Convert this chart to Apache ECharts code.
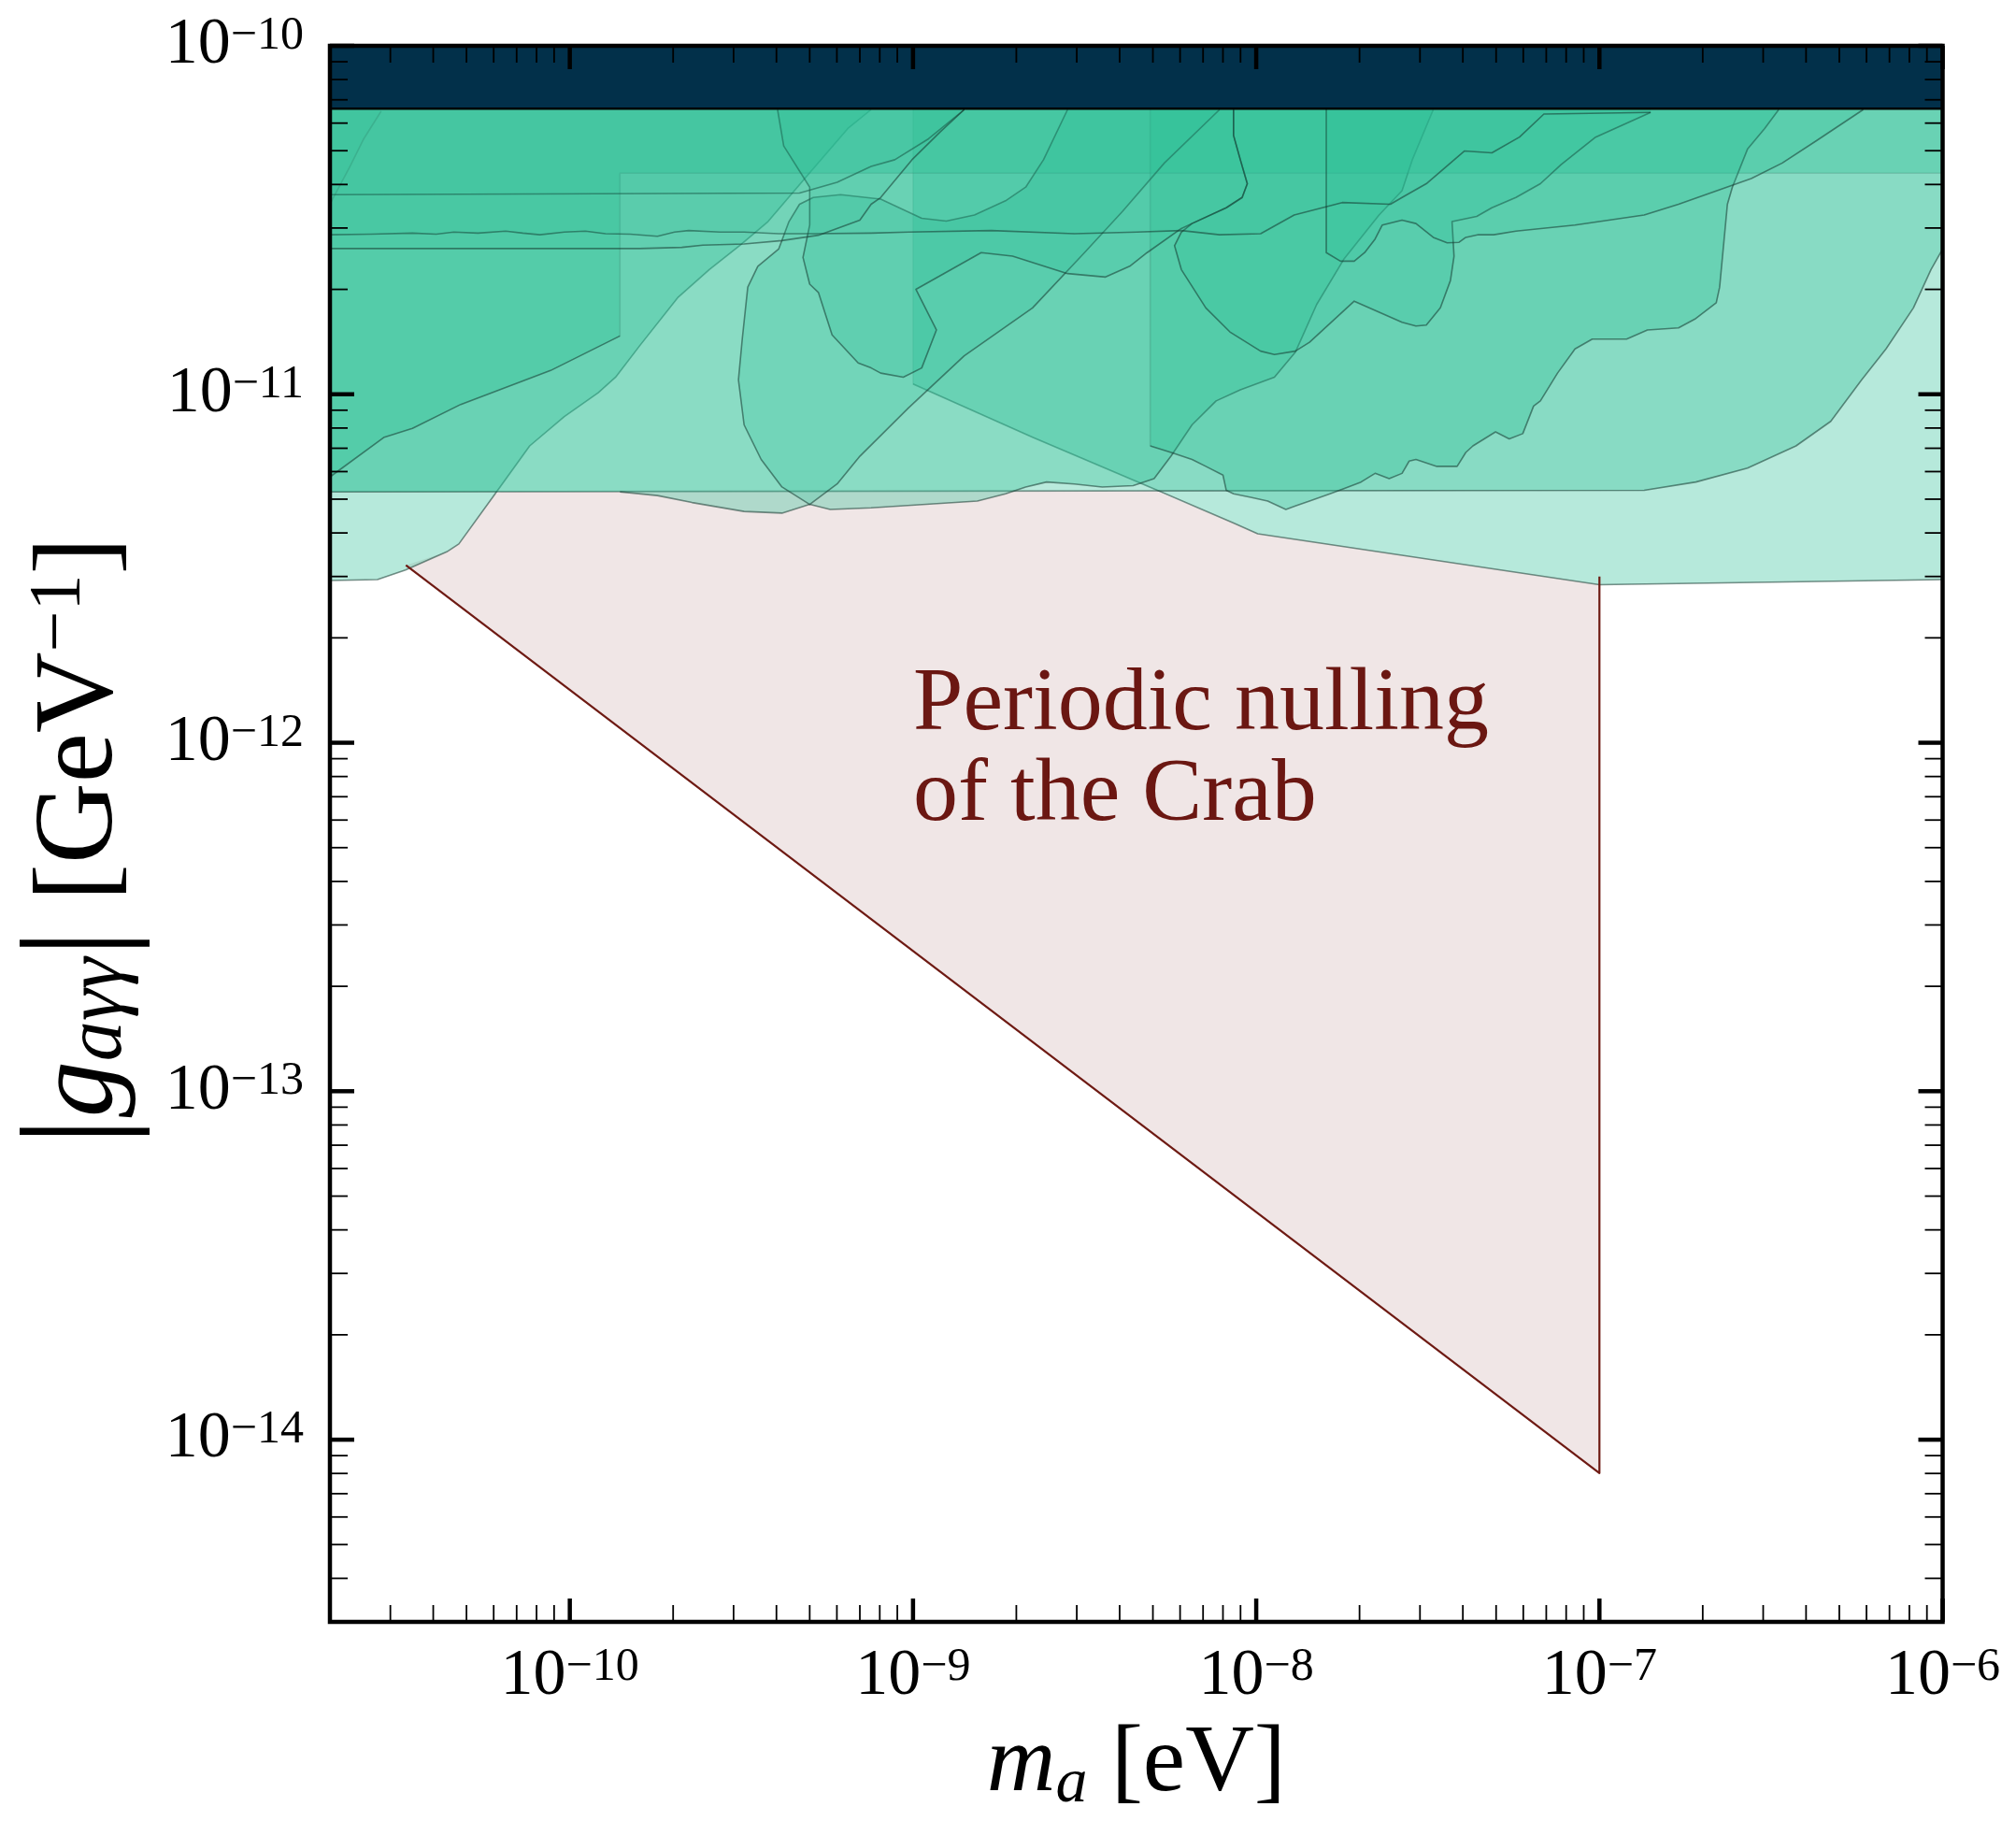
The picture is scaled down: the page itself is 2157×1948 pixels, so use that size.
<!DOCTYPE html>
<html>
<head>
<meta charset="utf-8">
<script src="https://cdn.jsdelivr.net/npm/echarts@6/dist/echarts.min.js"></script>
<style>
  html, body { margin: 0; padding: 0; background: #ffffff; }
  #chart { width: 2157px; height: 1948px; }
</style>
</head>
<body>
<div id="chart"></div>
<script>
// Axis ranges: axion mass m_a [eV] and photon coupling |g_aγγ| [GeV^-1]
const X_MIN = 2e-11, X_MAX = 1e-6;
const Y_MIN = 3e-15, Y_MAX = 1e-10;

// Decade ticks and their exponent labels
const X_TICKS = [1e-10, 1e-9, 1e-8, 1e-7, 1e-6];
const X_TICK_EXP = ['−10', '−9', '−8', '−7', '−6'];
const Y_TICKS = [1e-14, 1e-13, 1e-12, 1e-11, 1e-10];
const Y_TICK_EXP = ['−14', '−13', '−12', '−11', '−10'];

// Helioscope bound along the top of the frame
const CAST_G = 6.6e-11;

// Excluded regions, as [m_a, g] vertices
const REGION_LEFT = [[2e-11,1e-10],[2e-11,2.92e-12],[2.75e-11,2.94e-12],[3.32e-11,3.13e-12],[4.38e-11,3.53e-12],[4.75e-11,3.72e-12],[6.06e-11,5.18e-12],[7.64e-11,7.11e-12],[9.64e-11,8.63e-12],[1.21e-10,1.01e-11],[1.36e-10,1.12e-11],[1.60e-10,1.38e-11],[2.07e-10,1.90e-11],[2.55e-10,2.28e-11],[3.14e-10,2.68e-11],[3.78e-10,3.13e-11],[4.89e-10,4.21e-11],[6.46e-10,5.79e-11],[7.55e-10,6.56e-11],[8.5e-10,1e-10]];

const REGION_FLAT = [[2e-11,1e-10],[2e-11,5.25e-12],[1.35e-7,5.30e-12],[1.91e-7,5.60e-12],[2.70e-7,6.14e-12],[3.74e-7,7.11e-12],[4.72e-7,8.36e-12],[5.81e-7,1.10e-11],[6.84e-7,1.35e-11],[8.22e-7,1.77e-11],[9.25e-7,2.28e-11],[1e-6,2.61e-11],[1e-6,1e-10]];

const REGION_RIGHT = [[1e-9,1e-10],[1e-9,1.07e-11],[2.23e-9,7.53e-12],[5.15e-9,5.30e-12],[8.59e-9,4.27e-12],[1.01e-8,3.98e-12],[2.66e-8,3.45e-12],[1e-7,2.84e-12],[1e-6,2.94e-12],[1e-6,1e-10]];

const REGION_WAVY = [[2e-11,1e-10],[2e-11,5.25e-12],[1.40e-10,5.25e-12],[1.80e-10,5.12e-12],[2.27e-10,4.89e-12],[3.22e-10,4.61e-12],[4.15e-10,4.56e-12],[5.0e-10,4.83e-12],[5.74e-10,4.67e-12],[7.55e-10,4.72e-12],[1.54e-9,4.94e-12],[1.86e-9,5.18e-12],[2.13e-9,5.42e-12],[2.45e-9,5.60e-12],[2.95e-9,5.53e-12],[3.56e-9,5.42e-12],[4.38e-9,5.47e-12],[5.04e-9,5.73e-12],[5.65e-9,6.65e-12],[6.50e-9,8.17e-12],[7.64e-9,9.57e-12],[8.99e-9,1.03e-11],[1.13e-8,1.12e-11],[1.30e-8,1.32e-11],[1.50e-8,1.81e-11],[1.80e-8,2.44e-11],[2.28e-8,3.27e-11],[2.66e-8,3.84e-11],[2.85e-8,4.71e-11],[3.28e-8,6.56e-11],[3.4e-8,1e-10]];

const REGION_OVAL = [[2.82e-9,6.56e-11],[2.40e-9,4.71e-11],[2.13e-9,3.93e-11],[1.86e-9,3.59e-11],[1.51e-9,3.27e-11],[1.25e-9,3.14e-11],[1.06e-9,3.20e-11],[8.05e-10,3.63e-11],[6.15e-10,3.74e-11],[5.12e-10,3.67e-11],[4.67e-10,3.51e-11],[4.35e-10,3.13e-11],[4.06e-10,2.61e-11],[3.53e-10,2.33e-11],[3.30e-10,2.03e-11],[3.18e-10,1.44e-11],[3.10e-10,1.10e-11],[3.22e-10,8.17e-12],[3.61e-10,6.50e-12],[4.15e-10,5.42e-12],[5.0e-10,4.83e-12],[6.01e-10,5.53e-12],[7.01e-10,6.65e-12],[9.70e-10,9.14e-12],[1.41e-9,1.29e-11],[2.23e-9,1.77e-11],[3.16e-9,2.55e-11],[4.08e-9,3.35e-11],[5.40e-9,4.61e-11],[7.82e-9,6.56e-11],[7.82e-9,1e-10],[2.82e-9,1e-10]];

const REGION_STEP_LOW = [[2e-11,1e-10],[2e-11,5.79e-12],[2.88e-11,7.53e-12],[3.48e-11,7.98e-12],[4.81e-11,9.35e-12],[8.79e-11,1.17e-11],[1.40e-10,1.47e-11],[1.40e-10,4.31e-11],[1e-6,4.31e-11],[1e-6,1e-10]];

const REGION_STEP_HIGH = [[4.91e-9,1e-10],[4.91e-9,7.11e-12],[5.65e-9,6.81e-12],[6.50e-9,6.50e-12],[7.13e-9,6.21e-12],[8.0e-9,5.86e-12],[8.18e-9,5.30e-12],[8.59e-9,5.18e-12],[9.64e-9,5.06e-12],[1.08e-8,4.94e-12],[1.22e-8,4.67e-12],[1.30e-8,4.78e-12],[1.43e-8,4.94e-12],[1.64e-8,5.18e-12],[1.80e-8,5.36e-12],[2.02e-8,5.60e-12],[2.22e-8,5.93e-12],[2.44e-8,5.73e-12],[2.66e-8,5.93e-12],[2.79e-8,6.43e-12],[2.92e-8,6.50e-12],[3.36e-8,6.21e-12],[3.85e-8,6.21e-12],[4.08e-8,6.81e-12],[4.28e-8,7.11e-12],[4.98e-8,7.80e-12],[5.46e-8,7.45e-12],[5.98e-8,7.71e-12],[6.43e-8,9.25e-12],[6.73e-8,9.57e-12],[7.55e-8,1.15e-11],[8.49e-8,1.35e-11],[9.53e-8,1.44e-11],[1.20e-7,1.44e-11],[1.38e-7,1.53e-11],[1.70e-7,1.55e-11],[1.91e-7,1.65e-11],[2.19e-7,1.83e-11],[2.24e-7,2.03e-11],[2.36e-7,3.51e-11],[2.44e-7,3.93e-11],[2.70e-7,5.05e-11],[3.03e-7,5.79e-11],[3.33e-7,6.56e-11],[3.55e-7,1e-10]];

const REGION_ZIGZAG = [[4.03e-10,1e-10],[4.03e-10,6.56e-11],[4.20e-10,5.16e-11],[5.0e-10,3.93e-11],[5.0e-10,3.06e-11],[4.78e-10,2.47e-11],[5.0e-10,2.07e-11],[5.30e-10,1.96e-11],[5.81e-10,1.48e-11],[6.92e-10,1.23e-11],[7.55e-10,1.19e-11],[8.05e-10,1.15e-11],[9.37e-10,1.12e-11],[1.06e-9,1.19e-11],[1.17e-9,1.53e-11],[1.02e-9,2.0e-11],[1.58e-9,2.55e-11],[1.95e-9,2.49e-11],[2.82e-9,2.22e-11],[3.64e-9,2.17e-11],[4.28e-9,2.33e-11],[4.81e-9,2.55e-11],[6.05e-9,2.99e-11],[6.50e-9,3.09e-11],[8.18e-9,3.43e-11],[9.10e-9,3.67e-11],[9.42e-9,4.02e-11],[8.99e-9,4.71e-11],[8.59e-9,5.53e-11],[8.59e-9,6.56e-11],[8.59e-9,1e-10]];

const REGION_BLOB = [[8.59e-9,1e-10],[8.59e-9,6.56e-11],[8.59e-9,5.53e-11],[8.99e-9,4.71e-11],[9.42e-9,4.02e-11],[9.10e-9,3.67e-11],[8.18e-9,3.43e-11],[6.50e-9,3.09e-11],[6.05e-9,2.92e-11],[5.78e-9,2.67e-11],[6.05e-9,2.28e-11],[7.13e-9,1.77e-11],[8.38e-9,1.51e-11],[1.03e-8,1.33e-11],[1.13e-8,1.30e-11],[1.30e-8,1.33e-11],[1.43e-8,1.41e-11],[1.93e-8,1.85e-11],[2.66e-8,1.61e-11],[2.92e-8,1.57e-11],[3.13e-8,1.58e-11],[3.44e-8,1.77e-11],[3.68e-8,2.12e-11],[3.77e-8,2.49e-11],[3.72e-8,3.13e-11],[4.39e-8,3.24e-11],[4.86e-8,3.43e-11],[5.71e-8,3.67e-11],[6.73e-8,4.02e-11],[7.73e-8,4.56e-11],[9.75e-8,5.47e-11],[1.41e-7,6.44e-11],[1.41e-7,1e-10]];

const REGION_NOTCH = [[1.60e-8,1e-10],[1.60e-8,2.55e-11],[1.76e-8,2.41e-11],[1.93e-8,2.41e-11],[2.07e-8,2.55e-11],[2.22e-8,2.79e-11],[2.33e-8,3.06e-11],[2.66e-8,3.16e-11],[2.92e-8,3.09e-11],[3.28e-8,2.82e-11],[3.60e-8,2.72e-11],[3.90e-8,2.73e-11],[4.08e-8,2.82e-11],[4.44e-8,2.87e-11],[4.92e-8,2.87e-11],[5.71e-8,2.94e-11],[8.49e-8,3.06e-11],[1.35e-7,3.27e-11],[1.70e-7,3.51e-11],[2.77e-7,4.16e-11],[3.41e-7,4.61e-11],[4.30e-7,5.35e-11],[5.87e-7,6.56e-11],[6.0e-7,1e-10]];

const REGION_BAND_A = [[2e-11,1e-10],[2e-11,3.74e-11],[4.67e-10,3.78e-11],[6.01e-10,4.06e-11],[7.55e-10,4.51e-11],[8.85e-10,4.71e-11],[1.11e-9,5.41e-11],[1.41e-9,6.56e-11],[1.45e-9,1e-10]];

const REGION_BAND_B = [[2e-11,1e-10],[2e-11,2.87e-11],[2.63e-11,2.88e-11],[3.48e-11,2.90e-11],[4.08e-11,2.88e-11],[4.59e-11,2.92e-11],[5.40e-11,2.90e-11],[6.50e-11,2.94e-11],[7.30e-11,2.90e-11],[8.18e-11,2.87e-11],[9.64e-11,2.92e-11],[1.11e-10,2.94e-11],[1.27e-10,2.89e-11],[1.50e-10,2.88e-11],[1.80e-10,2.84e-11],[2.02e-10,2.92e-11],[2.22e-10,2.95e-11],[2.74e-10,2.92e-11],[3.22e-10,2.92e-11],[4.06e-10,2.89e-11],[5.12e-10,2.89e-11],[7.55e-10,2.90e-11],[9.70e-10,2.92e-11],[1.69e-9,2.95e-11],[2.95e-9,2.89e-11],[4.49e-9,2.92e-11],[6.05e-9,2.95e-11],[7.82e-9,2.87e-11],[1.03e-8,2.89e-11],[1.29e-8,3.27e-11],[1.78e-8,3.55e-11],[2.46e-8,3.51e-11],[2.66e-8,3.67e-11],[3.13e-8,4.02e-11],[4.04e-8,4.99e-11],[4.86e-8,4.93e-11],[5.85e-8,5.47e-11],[6.89e-8,6.37e-11],[1.41e-7,6.44e-11],[1.41e-7,1e-10]];

const REGION_BAND_C = [[2e-11,1e-10],[2e-11,2.62e-11],[1.60e-10,2.62e-11],[2.12e-10,2.64e-11],[2.44e-10,2.68e-11],[3.22e-10,2.70e-11],[4.15e-10,2.76e-11],[5.30e-10,2.86e-11],[7.0e-10,3.16e-11],[7.55e-10,3.51e-11],[8.05e-10,3.67e-11],[9.93e-10,4.71e-11],[1.20e-9,5.66e-11],[1.41e-9,6.56e-11],[1.45e-9,1e-10]];

const REGION_CORNER = [[2e-11,1e-10],[2e-11,3.51e-11],[2.29e-11,4.51e-11],[2.51e-11,5.41e-11],[2.82e-11,6.49e-11],[2.95e-11,1e-10]];

// Projected reach: periodic nulling of the Crab
const CRAB_FILL = [[3.33e-11,3.23e-12],[4.38e-11,3.53e-12],[4.75e-11,3.72e-12],[6.06e-11,5.18e-12],[6.3e-11,5.25e-12],[5.15e-9,5.25e-12],[8.59e-9,4.27e-12],[1.01e-8,3.98e-12],[2.66e-8,3.45e-12],[1e-7,2.84e-12],[1e-7,8.02e-15]];
const CRAB_EDGE = [[3.33e-11,3.23e-12],[1e-7,8.02e-15],[1e-7,3.0e-12]];

// ---- styling ----
const SERIF = '"Liberation Serif", "DejaVu Serif", serif';
const GREEN = (a) => `rgba(42,190,150,${a})`;
const DARK = 'rgba(20,55,45,0.55)';
const FAINT = 'rgba(20,55,45,0.14)';

// draw one polygon (fill) plus chosen stretches of its outline
function polySeries(name, pts, fill, strokes, z) {
  return {
    name, type: 'custom', coordinateSystem: 'cartesian2d',
    silent: true, animation: false, z: z,
    data: pts, encode: { x: 0, y: 1 },
    renderItem(params, api) {
      if (params.dataIndex !== 0) return null;
      const px = pts.map(p => api.coord(p));
      const children = [];
      if (fill) children.push({ type: 'polygon', shape: { points: px }, style: { fill: fill, stroke: null } });
      (strokes || []).forEach(s => {
        children.push({
          type: 'polyline', shape: { points: px.slice(s[0], s[1] + 1) },
          style: { stroke: s[2] || DARK, lineWidth: s[3] || 1.6, fill: null, lineJoin: 'round' }
        });
      });
      return { type: 'group', children };
    }
  };
}

const last = (a) => a.length - 2;

const series = [
  polySeries('crab-fill', CRAB_FILL, '#f0e6e6', [], 1),
  polySeries('right', REGION_RIGHT, GREEN(0.34), [[0, 1, FAINT], [1, 8]], 2),
  polySeries('left', REGION_LEFT, GREEN(0.34), [[1, last(REGION_LEFT)]], 2),
  polySeries('flat', REGION_FLAT, GREEN(0.33), [[1, last(REGION_FLAT)]], 2),
  polySeries('wavy', REGION_WAVY, GREEN(0.33), [[2, last(REGION_WAVY)]], 2),
  polySeries('step-low', REGION_STEP_LOW, GREEN(0.33), [[1, 6], [6, 8, FAINT]], 2),
  polySeries('step-high', REGION_STEP_HIGH, GREEN(0.33), [[0, 1, FAINT], [1, last(REGION_STEP_HIGH)]], 2),
  polySeries('oval', REGION_OVAL, GREEN(0.25), [[0, REGION_OVAL.length - 3]], 2),
  polySeries('zigzag', REGION_ZIGZAG, GREEN(0.25), [[1, last(REGION_ZIGZAG)]], 2),
  polySeries('blob', REGION_BLOB, GREEN(0.25), [[1, last(REGION_BLOB)]], 2),
  polySeries('notch', REGION_NOTCH, GREEN(0.22), [[0, last(REGION_NOTCH)]], 2),
  polySeries('band-a', REGION_BAND_A, GREEN(0.12), [[1, last(REGION_BAND_A)]], 2),
  polySeries('band-b', REGION_BAND_B, GREEN(0.12), [[1, last(REGION_BAND_B)]], 2),
  polySeries('band-c', REGION_BAND_C, GREEN(0.12), [[1, last(REGION_BAND_C)]], 2),
  polySeries('corner', REGION_CORNER, GREEN(0.12), [[1, last(REGION_CORNER), FAINT]], 2),
  polySeries('crab-edge', CRAB_EDGE, null, [[0, 2, '#6e1a13', 2.2]], 3),
  polySeries('cast', [[X_MIN, CAST_G], [X_MAX, CAST_G], [X_MAX, Y_MAX], [X_MIN, Y_MAX]], '#02304a', [[0, 1, '#000', 2.5]], 4),
  {
    // frame and inward ticks on all four sides
    name: 'frame', type: 'custom', coordinateSystem: 'cartesian2d',
    silent: true, animation: false, z: 6,
    data: [[X_MIN, Y_MIN]], encode: { x: 0, y: 1 },
    renderItem(params, api) {
      const cs = params.coordSys;
      const x0 = cs.x, y0 = cs.y, x1 = cs.x + cs.width, y1 = cs.y + cs.height;
      const ch = [];
      const seg = (a, b, c, d, w) => ch.push({ type: 'line', shape: { x1: a, y1: b, x2: c, y2: d }, style: { stroke: '#000', lineWidth: w } });
      const xMinor = [], yMinor = [];
      for (let e = -12; e <= -6; e++) for (let k = 2; k <= 9; k++) {
        const v = k * Math.pow(10, e);
        if (v > X_MIN * 1.001 && v < X_MAX) xMinor.push(v);
      }
      for (let e = -15; e <= -10; e++) for (let k = 2; k <= 9; k++) {
        const v = k * Math.pow(10, e);
        if (v > Y_MIN * 1.001 && v < Y_MAX) yMinor.push(v);
      }
      xMinor.forEach(v => { const p = api.coord([v, Y_MIN])[0]; seg(p, y1, p, y1 - 18, 1.8); seg(p, y0, p, y0 + 18, 1.8); });
      X_TICKS.forEach(v => { const p = api.coord([v, Y_MIN])[0]; seg(p, y1, p, y1 - 25, 4.5); seg(p, y0, p, y0 + 25, 4.5); });
      yMinor.forEach(v => { const q = api.coord([X_MIN, v])[1]; seg(x0, q, x0 + 19, q, 1.8); seg(x1, q, x1 - 19, q, 1.8); });
      Y_TICKS.forEach(v => { const q = api.coord([X_MIN, v])[1]; seg(x0, q, x0 + 26, q, 4.5); seg(x1, q, x1 - 26, q, 4.5); });
      ch.push({ type: 'rect', shape: { x: x0, y: y0, width: cs.width, height: cs.height }, style: { fill: null, stroke: '#000', lineWidth: 4.5 } });
      return { type: 'group', children: ch };
    }
  }
];

function decadeLabel(ticks, exps) {
  return (v) => {
    const i = ticks.findIndex(t => Math.abs(Math.log10(v) - Math.log10(t)) < 1e-6);
    return i < 0 ? '' : `{b|10}{s|${exps[i]}}`;
  };
}
const tickRich = {
  b: { fontFamily: SERIF, fontSize: 70, lineHeight: 70, color: '#000', verticalAlign: 'bottom' },
  s: { fontFamily: SERIF, fontSize: 50, lineHeight: 28, color: '#000', verticalAlign: 'top' }
};

const chart = echarts.init(document.getElementById('chart'), null, { renderer: 'canvas' });
chart.setOption({
  backgroundColor: '#ffffff',
  animation: false,
  grid: { left: 353, right: 78.5, top: 49, bottom: 208, show: false },
  xAxis: {
    type: 'log', logBase: 10, min: X_MIN, max: X_MAX,
    axisLine: { show: false }, axisTick: { show: false }, splitLine: { show: false },
    axisLabel: { formatter: decadeLabel(X_TICKS, X_TICK_EXP), rich: tickRich, margin: 24, showMinLabel: true, showMaxLabel: true },
    name: '{mi|m}{sub|a}{n| [eV]}', nameLocation: 'middle', nameGap: 98,
    nameTextStyle: {
      rich: {
        mi: { fontFamily: SERIF, fontStyle: 'italic', fontSize: 102, lineHeight: 110, color: '#000' },
        sub: { fontFamily: SERIF, fontStyle: 'italic', fontSize: 68, lineHeight: 50, verticalAlign: 'bottom', color: '#000' },
        n: { fontFamily: SERIF, fontSize: 102, lineHeight: 110, color: '#000' }
      }
    }
  },
  yAxis: {
    type: 'log', logBase: 10, min: Y_MIN, max: Y_MAX,
    axisLine: { show: false }, axisTick: { show: false }, splitLine: { show: false },
    axisLabel: { formatter: decadeLabel(Y_TICKS, Y_TICK_EXP), rich: tickRich, margin: 28, showMinLabel: true, showMaxLabel: true },
    name: '{bar||}{gi|g}{sub|aγγ}{bar||}{n| [GeV}{sup|−1}{end|]}', nameLocation: 'middle', nameGap: 204, nameRotate: 90,
    nameTextStyle: {
      rich: {
        bar: { fontFamily: SERIF, fontSize: 152, lineHeight: 124, color: '#000' },
        gi: { fontFamily: SERIF, fontStyle: 'italic', fontSize: 120, lineHeight: 124, color: '#000' },
        sub: { fontFamily: SERIF, fontStyle: 'italic', fontSize: 86, lineHeight: 58, verticalAlign: 'bottom', color: '#000' },
        sup: { fontFamily: SERIF, fontSize: 78, lineHeight: 46, verticalAlign: 'top', color: '#000' },
        n: { fontFamily: SERIF, fontSize: 120, lineHeight: 124, color: '#000' },
        end: { fontFamily: SERIF, fontSize: 120, lineHeight: 124, color: '#000', padding: [0, 16, 0, 0] }
      }
    }
  },
  graphic: [{
    type: 'text', left: 977, top: 706, z: 10, silent: true,
    style: { text: 'Periodic nulling\nof the Crab', fontFamily: SERIF, fontSize: 96, lineHeight: 97, fill: '#6b1712' }
  }],
  series: series
});
</script>
</body>
</html>
